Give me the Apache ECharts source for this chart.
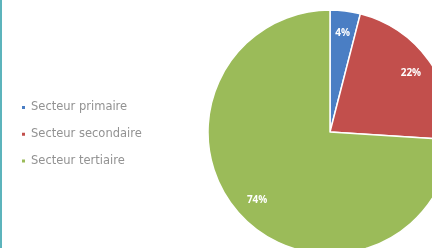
<!DOCTYPE html>
<html>
<head>
<meta charset="utf-8">
<script src="https://cdn.jsdelivr.net/npm/echarts@6/dist/echarts.min.js"></script>
<style>
  html, body { margin: 0; padding: 0; background: #fff; }
  #chart { width: 432px; height: 248px; position: relative; }
  #edge { position: absolute; left: 0; top: 0; width: 2px; height: 248px; background: #5cb4bc; z-index: 5; }
</style>
</head>
<body>
<div id="chart"></div>
<div id="edge"></div>
<script>
  const categories = ['Secteur primaire', 'Secteur secondaire', 'Secteur tertiaire']
  const values = [4, 22, 74]
  const colors = ['#4a7ec4', '#c24f4c', '#9bbb59']

  const pieData = categories.map((name, i) => ({ name, value: values[i] }))

  const chart = echarts.init(document.getElementById('chart'))
  chart.setOption({
    animation: false,
    color: colors,
    legend: {
      orient: 'vertical',
      left: 20,
      top: 101.5,
      padding: 0,
      itemWidth: 5,
      itemHeight: 5,
      itemGap: 14.7,
      icon: 'rect',
      textStyle: {
        fontFamily: 'DejaVu Sans',
        fontSize: 11.5,
        color: '#929292'
      },
      data: categories
    },
    series: [
      {
        type: 'pie',
        center: [330, 132],
        radius: [0, 122],
        startAngle: 90,
        clockwise: true,
        itemStyle: { borderColor: '#fff', borderWidth: 1.5 },
        label: { show: false },
        labelLine: { show: false },
        data: pieData
      },
      {
        // transparent ring carrying the labels near the rim
        type: 'pie',
        silent: true,
        center: [330, 132],
        radius: [72, 122],
        startAngle: 90,
        clockwise: true,
        itemStyle: { color: 'rgba(0,0,0,0)', borderWidth: 0 },
        label: {
          show: true,
          position: 'inside',
          formatter: '{d}%',
          color: '#fff',
          fontFamily: 'Open Sans',
          fontWeight: 'bold',
          fontSize: 10
        },
        labelLine: { show: false },
        data: pieData
      }
    ]
  })
</script>
</body>
</html>
